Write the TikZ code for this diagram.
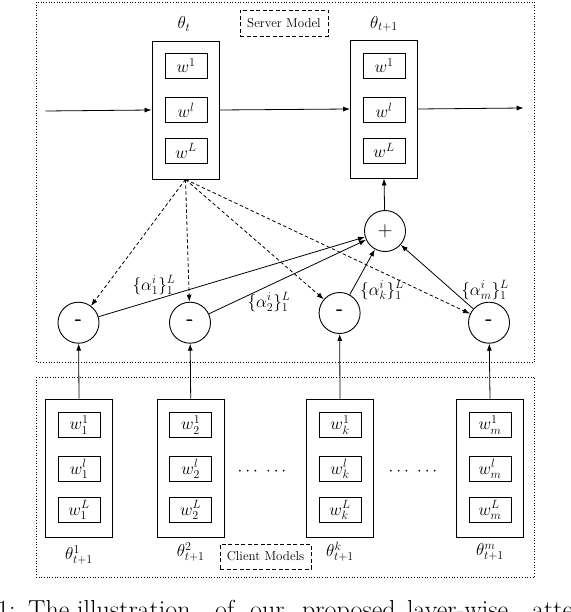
\documentclass[tikz,border=0pt]{standalone}
\usetikzlibrary{arrows.meta}
\begin{document}
\begin{tikzpicture}[x=1pt,y=-1pt,
  every node/.style={font=\fontsize{18}{20}\selectfont},
  model/.style={draw,line width=0.9pt,minimum width=67pt,minimum height=138pt,inner sep=0pt},
  layer/.style={draw,line width=0.9pt,minimum width=42pt,minimum height=25pt,inner sep=0pt},
  op/.style={draw,circle,line width=0.9pt,minimum size=41pt,inner sep=0pt,font=\fontsize{21}{21}\selectfont\sffamily},
  minus/.style={op,font=\fontsize{21}{21}\selectfont\sffamily\bfseries},
  wt/.style={font=\fontsize{17}{19}\selectfont},
  tag/.style={draw,dash pattern=on 4pt off 2.5pt,line width=0.8pt,minimum height=26pt,inner sep=2pt,font=\fontsize{13}{15}\selectfont},
  region/.style={draw,dotted,line width=0.7pt},
  arr/.style={-{Latex[length=7pt,width=5pt]},line width=0.8pt},
  darr/.style={-{Latex[length=7pt,width=5pt]},line width=0.8pt,dash pattern=on 3.5pt off 2.5pt}]
\useasboundingbox (0,0) rectangle (570,612);
\clip (0,0) rectangle (570,612);
% regions
\draw[region] (36,2) rectangle (534.5,362);
\draw[region] (36,377) rectangle (534.5,577);
% server
\node[tag,minimum width=88pt] (srvtag) at (284,23) {Server Model};
\node (thA) at (184,24) {$\theta_t$};
\node (thB) at (384,24) {$\theta_{t+1}$};
\node[model] (sA) at (185.5,110) {};
\node[layer] (sA1) at (186,66) {$w^1$};
\node[layer] (sAl) at (186,110) {$w^l$};
\node[layer] (sAL) at (186,151) {$w^L$};
\node[model] (sB) at (384,109) {};
\node[layer] (sB1) at (384,65.5) {$w^1$};
\node[layer] (sBl) at (384,110) {$w^l$};
\node[layer] (sBL) at (384,150.5) {$w^L$};
\coordinate (in) at (45.5,111);
\coordinate (out) at (523.6,108);
\draw[arr] (in) -- (sA.west);
\draw[arr] (sA.east) -- (sB.west);
\draw[arr] (sB.east) -- (out);
% operators
\node[op] (plus) at (385,231) {+};
\node[minus] (m1) at (78.5,322.7) {-};
\node[minus] (m2) at (190,322.7) {-};
\node[minus] (m3) at (339.6,313) {-};
\node[minus] (m4) at (489,322.7) {-};
\draw[arr] (plus) -- (sB.south);
\foreach \m in {m1,m2,m3,m4}{
  \draw[darr] (sA.south) -- (\m);
  \draw[arr] (\m) -- (plus);
}
\node[wt] (a1) at (154,285) {$\{\alpha_1^i\}_1^L$};
\node[wt] (a2) at (269,302) {$\{\alpha_2^i\}_1^L$};
\node[wt] (ak) at (382,290) {$\{\alpha_k^i\}_1^L$};
\node[wt] (am) at (485,290) {$\{\alpha_m^i\}_1^L$};
% clients
\foreach \n/\x/\s/\m/\ly in {c1/79/1/m1/555, c2/190.7/2/m2/552, ck/340/k/m3/552, cm/490/m/m4/552}{
  \node[model] (\n) at (\x,468) {};
  \node[layer] (\n1) at (\x,425) {$w_{\s}^1$};
  \node[layer] (\n l) at (\x,469) {$w_{\s}^l$};
  \node[layer] (\n L) at (\x,510) {$w_{\s}^L$};
  \node (\n lab) at (\x,\ly) {$\theta_{t+1}^{\s}$};
  \draw[arr] (\n.north) -- (\m);
}
\node (dots1) at (262,472) {$\cdots\ \cdots$};
\node (dots2) at (413,472) {$\cdots\ \cdots$};
\node[tag,minimum width=91pt,minimum height=25pt] (clitag) at (265.5,556.5) {Client Models};
% caption (cropped)
\node[anchor=base west,inner sep=0pt,font=\rmfamily\fontsize{26}{30}\selectfont] (cap) at (-3,618.5)
  {\makebox[0pt][l]{1:}\hskip31pt\makebox[0pt][l]{The}\hskip49pt\makebox[0pt][l]{illustration}\hskip138pt\makebox[0pt][l]{of}\hskip35pt\makebox[0pt][l]{our}\hskip52pt\makebox[0pt][l]{proposed}\hskip105pt\makebox[0pt][l]{layer-wise}\hskip125pt\makebox[0pt][l]{attention-based}};
\end{tikzpicture}
\end{document}
